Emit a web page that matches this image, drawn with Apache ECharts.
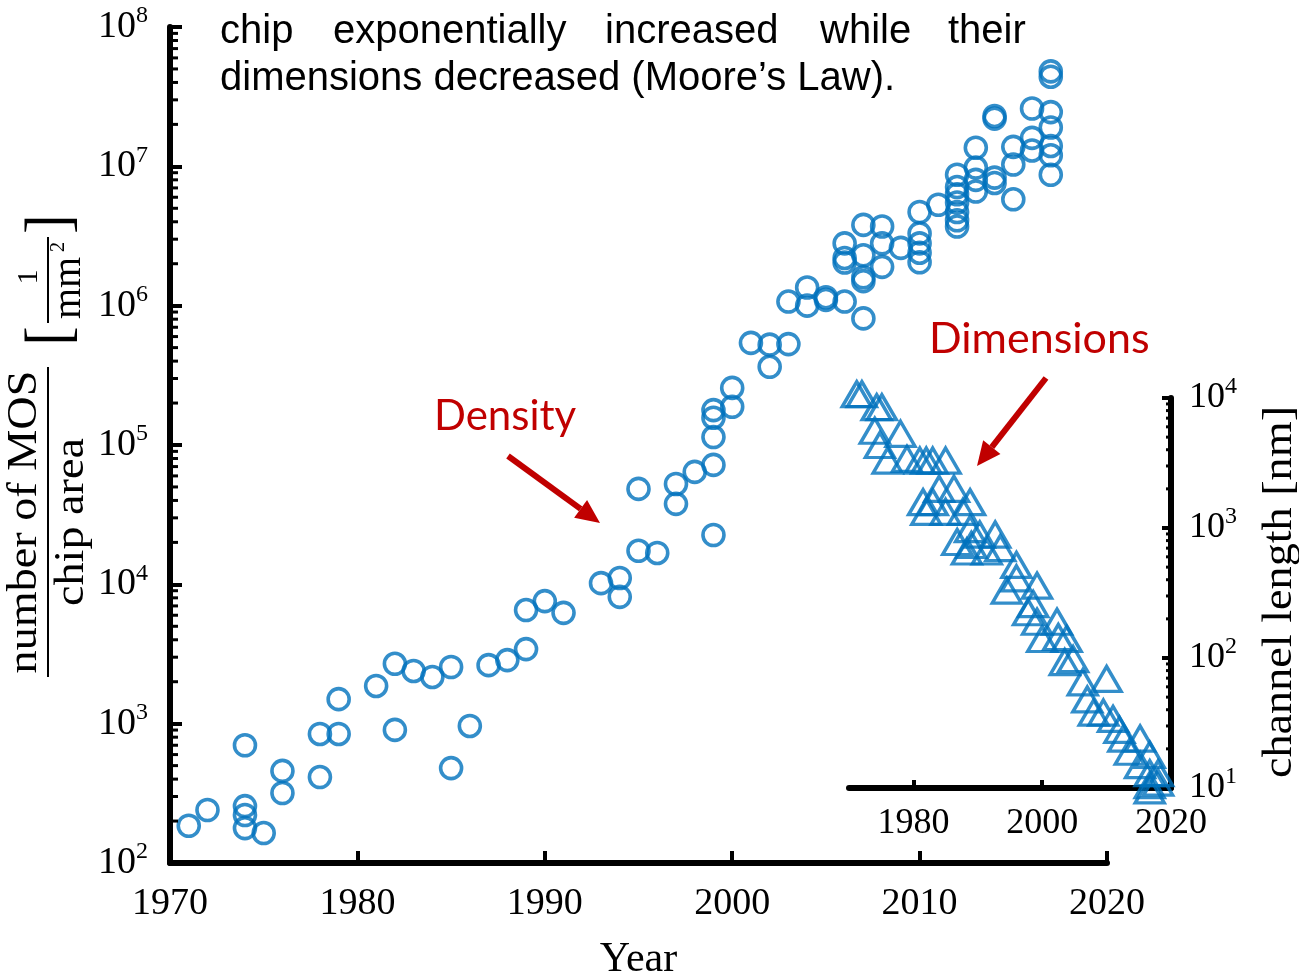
<!DOCTYPE html>
<html><head><meta charset="utf-8">
<script src="https://cdn.jsdelivr.net/npm/echarts@6/dist/echarts.min.js"></script>
<style>html,body{margin:0;padding:0;background:#fff}#c{width:1299px;height:972px}</style>
</head><body><div id="c"></div>
<script>
// ---- Data ----
const densityYear = [1971,1972,1974,1974,1974,1974,1975,1976,1976,1978,1978,1979,1979,1981,1982,1982,1983,1984,1985,1985,1986,1987,1988,1989,1989,1990,1991,1993,1994,1994,1995,1995,1996,1997,1997,1998,1999,1999,1999,1999,1999,2000,2000,2001,2002,2002,2003,2003,2004,2004,2005,2005,2006,2006,2006,2006,2007,2007,2007,2007,2007,2008,2008,2008,2009,2010,2010,2010,2010,2010,2011,2012,2012,2012,2012,2012,2012,2012,2013,2013,2013,2013,2014,2014,2014,2014,2015,2015,2015,2016,2016,2016,2017,2017,2017,2017,2017,2017,2017];
const densityValue = [185,240,700,256,221,178,164,458,318,844,414,1500,844,1865,2690,902,2390,2164,2550,480,963,2630,2860,3430,6540,7580,6240,10200,11100,8130,48400,17400,16800,52500,37800,64100,22600,72000,114000,157000,178000,188000,257000,541000,525000,364000,530000,1070000,1350000,1000000,1150000,1100000,1070000,2040000,2200000,2800000,810000,1500000,1600000,2300000,3800000,1900000,2800000,3700000,2600000,2050000,2400000,2800000,3300000,4700000,5300000,3700000,4100000,4700000,5500000,6300000,7100000,8700000,6600000,8000000,9800000,13600000,7600000,8300000,22000000,23000000,5800000,10300000,13800000,13000000,16000000,26000000,8700000,12000000,14000000,19000000,24500000,44000000,48000000];

const lengthYear = [1971.2,1972,1974.3,1975.1,1974,1978,1974.8,1976,1979,1981,1982,1983,1985,1984,1986.3,1981.5,1983,1988.8,1982,1985,1987.7,1988.8,1986.8,1990.3,1992.7,1988.3,1991.4,1989,1993.5,1996,1996,1994.5,1999.2,1998.6,1997.8,1999.2,2002.3,2000,2002.5,2003.8,2004.8,2003.5,2006.3,2010,2007,2008,2009.5,2011,2012,2012.6,2015.2,2013.6,2016.7,2015.2,2016.7,2018,2016.7,2018,2016.7];
const lengthValue = [10700,10700,8500,8500,5600,5300,4350,3300,3400,3300,3300,3300,3300,2000,2000,1580,1580,1580,1330,1330,1330,980,780,890,890,660,660,740,700,520,410,330,360,260,225,190,190,140,145,140,98,93,65,69,48,38,38,34,28,24,24,19,18,15,13,13,10.5,11,9.6];

const mainYTicks = [1e2,1e3,1e4,1e5,1e6,1e7,1e8];
const insetYTicks = [1e1,1e2,1e3,1e4];
const insetXLabels = [1980,2000,2020];

// minor tick values (2..9 x 10^k)
function minorVals(e0, e1){ const r=[]; for(let e=e0;e<e1;e++) for(let k=2;k<=9;k++) r.push(k*Math.pow(10,e)); return r; }
const mainMinor = minorVals(2,8);
const insetMinor = minorVals(1,4);

const BLUE = '#0072BD', RED = '#C00000';
const SERIF = '"Liberation Serif", "DejaVu Serif", serif';
const SANS = '"Liberation Sans", Arial, sans-serif';
const CAL = 'Lato, "Open Sans", sans-serif';

const chart = echarts.init(document.getElementById('c'), null, {renderer:'canvas'});

function supFmt(v){ return '10{s|' + Math.round(Math.log10(v)) + '}'; }
const supRich = {
  s: {fontSize: 24, fontFamily: SERIF, color:'#000', padding:[0,0,22,0]}
};
function yearFmt(v){ return String(v); }

function minorTickSeries(xi, yi, xval, vals, dir, len){
  return {
    type:'custom', xAxisIndex:xi, yAxisIndex:yi, silent:true, clip:false, z:5,
    data: vals.map(v=>[xval, v]),
    renderItem: function(params, api){
      const p = api.coord([api.value(0), api.value(1)]);
      return {type:'line', shape:{x1:p[0], y1:p[1], x2:p[0]+dir*len, y2:p[1]}, style:{stroke:'#000', lineWidth:3}};
    }
  };
}

function arrow(x1,y1,x2,y2){
  const a = Math.atan2(y2-y1, x2-x1), L=24, W=11;
  const bx = x2 - L*Math.cos(a), by = y2 - L*Math.sin(a);
  return [
    {type:'line', shape:{x1:x1,y1:y1,x2:bx,y2:by}, style:{stroke:RED, lineWidth:6}},
    {type:'polygon', shape:{points:[[x2,y2],[bx - W*Math.sin(a), by + W*Math.cos(a)],[bx + W*Math.sin(a), by - W*Math.cos(a)]]}, style:{fill:RED}}
  ];
}

const option = {
  animation:false,
  backgroundColor:'#fff',
  grid:[
    {left:170, top:27, width:937, height:836, containLabel:false, outerBoundsMode:'none'},
    {left:849, top:398, width:322, height:390, containLabel:false, outerBoundsMode:'none'}
  ],
  xAxis:[
    {gridIndex:0, type:'value', min:1970, max:2020, interval:10,
     name:'Year', nameLocation:'middle', nameGap:76,
     nameTextStyle:{fontFamily:SERIF, fontSize:42, color:'#000'},
     axisLine:{onZero:false, lineStyle:{color:'#000', width:6}},
     axisTick:{inside:true, length:12, lineStyle:{color:'#000', width:4}},
     axisLabel:{fontFamily:SERIF, fontSize:38, color:'#000', margin:22, formatter:yearFmt},
     splitLine:{show:false}},
    {gridIndex:1, type:'value', min:1970, max:2020,
     axisLine:{onZero:false, lineStyle:{color:'#000', width:6}},
     axisTick:{inside:true, length:8, lineStyle:{color:'#000', width:4}, customValues:insetXLabels},
     axisLabel:{fontFamily:SERIF, fontSize:36, color:'#000', margin:18, customValues:insetXLabels, formatter:yearFmt},
     splitLine:{show:false}}
  ],
  yAxis:[
    {gridIndex:0, type:'log', logBase:10, min:1e2, max:1e8, interval:1,
     axisLine:{onZero:false, lineStyle:{color:'#000', width:6}},
     axisTick:{inside:true, length:12, lineStyle:{color:'#000', width:4}},
     axisLabel:{fontFamily:SERIF, fontSize:38, color:'#000', margin:22, formatter:supFmt, rich:supRich},
     splitLine:{show:false}},
    {gridIndex:1, type:'log', logBase:10, min:10, max:1e4, interval:1, position:'right',
     axisLine:{onZero:false, lineStyle:{color:'#000', width:6}},
     axisTick:{inside:true, length:9, lineStyle:{color:'#000', width:4}},
     axisLabel:{fontFamily:SERIF, fontSize:36, color:'#000', margin:18, formatter:supFmt, rich:supRich},
     splitLine:{show:false}}
  ],
  series:[
    {type:'scatter', xAxisIndex:0, yAxisIndex:0, clip:false, symbol:'circle', symbolSize:21,
     itemStyle:{color:'transparent', borderColor:BLUE, borderWidth:3.6},
     data: densityYear.map((y,i)=>[y, densityValue[i]])},
    {type:'scatter', xAxisIndex:1, yAxisIndex:1, clip:false, symbol:'triangle', symbolSize:[29,25],
     itemStyle:{color:'transparent', borderColor:BLUE, borderWidth:3.4},
     data: lengthYear.map((y,i)=>[y, lengthValue[i]])},
    minorTickSeries(0,0,1970, mainMinor, 1, 8),
    minorTickSeries(1,1,2020, insetMinor, -1, 5)
  ],
  graphic:[
    {type:'group', x:48, y:522, rotation:Math.PI/2, children:[
      {type:'text', scaleX:1.1, style:{text:'number of MOS', x:0, y:-2, align:'center', verticalAlign:'bottom', font:'42px ' + SERIF, fill:'#000'}},
      {type:'line', shape:{x1:-155, y1:0, x2:155, y2:0}, style:{stroke:'#000', lineWidth:2}},
      {type:'text', scaleX:1.1, style:{text:'chip area', x:0, y:3, align:'center', verticalAlign:'top', font:'42px ' + SERIF, fill:'#000'}}
    ]},
    {type:'group', x:48, y:280, rotation:Math.PI/2, children:[
      {type:'text', scaleX:0.9, style:{text:'[', x:-62, y:3, align:'center', verticalAlign:'middle', font:'64px ' + SERIF, fill:'#000'}},
      {type:'text', style:{text:'1', x:3, y:-4, align:'center', verticalAlign:'bottom', font:'30px ' + SERIF, fill:'#000'}},
      {type:'line', shape:{x1:-43, y1:0, x2:43, y2:0}, style:{stroke:'#000', lineWidth:2}},
      {type:'text', style:{text:'mm', x:-8, y:1, align:'center', verticalAlign:'top', font:'40px ' + SERIF, fill:'#000'}},
      {type:'text', style:{text:'2', x:33, y:1, align:'center', verticalAlign:'top', font:'20px ' + SERIF, fill:'#000'}},
      {type:'text', scaleX:0.9, style:{text:']', x:62, y:3, align:'center', verticalAlign:'middle', font:'64px ' + SERIF, fill:'#000'}}
    ]},
    {type:'group', x:1280, y:592, rotation:Math.PI/2, children:[
      {type:'text', scaleX:1.1, style:{text:'channel length [nm]', x:0, y:0, align:'center', verticalAlign:'middle', font:'42px ' + SERIF, fill:'#000'}}
    ]},
    {type:'text', left:220, top:12, style:{text:'chip', font:'40px ' + SANS, fill:'#000'}},
    {type:'text', left:333, top:12, style:{text:'exponentially', font:'40px ' + SANS, fill:'#000'}},
    {type:'text', left:605, top:12, style:{text:'increased', font:'40px ' + SANS, fill:'#000'}},
    {type:'text', left:820, top:12, style:{text:'while', font:'40px ' + SANS, fill:'#000'}},
    {type:'text', left:948, top:12, style:{text:'their', font:'40px ' + SANS, fill:'#000'}},
    {type:'text', left:220, top:59, style:{text:'dimensions decreased (Moore\u2019s Law).', font:'40px ' + SANS, fill:'#000'}},
    {type:'text', left:434, top:395, style:{text:'Density', font:'42px ' + CAL, fill:RED}},
    {type:'text', left:929, top:318, style:{text:'Dimensions', font:'43px ' + CAL, fill:RED}}
  ].concat(arrow(508,456,600,523)).concat(arrow(1046,378,977,466))
};
chart.setOption(option);
</script></body></html>
